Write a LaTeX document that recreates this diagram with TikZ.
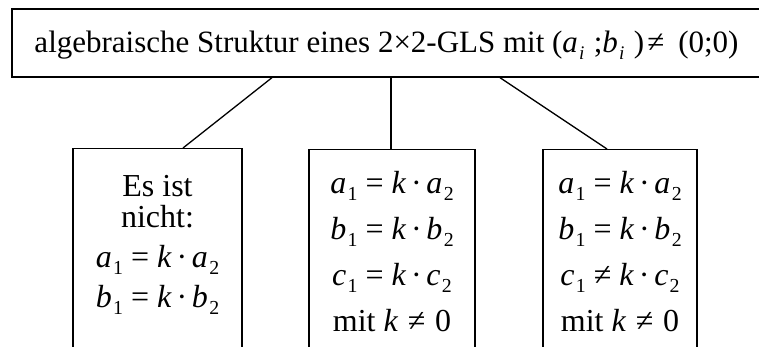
\documentclass[tikz,border=0pt]{standalone}
\usepackage{fontspec}
\setmainfont{Liberation Serif}
\usepackage{graphicx}
\usetikzlibrary{positioning,calc}

% italic letter with lowered index
\newcommand{\ix}[2]{\textit{#1}\kern0.04em\raisebox{-0.22em}{\scalebox{0.62}{#2}}}
% one line  x_1 = k . x_2
\newcommand{\gl}[3]{\ix{#1}{1}\kern.25em#2\kern.25em\textit{k}\kern.15em·\kern.15em\ix{#3}{2}}

\begin{document}
\begin{tikzpicture}[x=1pt,y=-1pt]
\tikzstyle{box}=[draw,line width=1.3pt,inner sep=0pt]
\tikzstyle{unten}=[box,anchor=north,font=\fontsize{32}{46}\selectfont]
\clip (0,0) rectangle (759,347);
\node[box,minimum width=749pt,minimum height=68pt,text height=22pt,text depth=3pt,
  font=\fontsize{31}{34}\selectfont] (head) at (386.5,43)
  {algebraische Struktur eines 2×2-GLS mit (\ix{a}{\textit{i}}\kern.3em;\ix{b}{\textit{i}}\kern.3em)\kern.1em≠\kern.45em(0;0)};
\node[unten] (links) at (157.5,148) {\parbox[t][220pt][t]{169pt}{\centering
  \baselineskip=31pt\vspace*{27pt}Es ist\\nicht:\\[9pt]
  \gl{a}{=}{a}\\[9pt]
  \gl{b}{=}{b}}};
\node[unten] (mitte) at (392,149) {\parbox[t][220pt][t]{166pt}{\centering
  \vspace*{22pt}\gl{a}{=}{a}\\
  \gl{b}{=}{b}\\
  \gl{c}{=}{c}\\
  mit \textit{k}\kern.3em≠\kern.3em0}};
\node[unten] (rechts) at (620,149) {\parbox[t][220pt][t]{154pt}{\centering
  \vspace*{22pt}\gl{a}{=}{a}\\
  \gl{b}{=}{b}\\
  \gl{c}{≠}{c}\\
  mit \textit{k}\kern.3em≠\kern.3em0}};
\draw[line width=1.3pt] ([xshift=-114.5pt]head.south) -- ([xshift=25.5pt]links.north);
\draw[line width=1.3pt] ([xshift=4.5pt]head.south) -- ([xshift=-1pt]mitte.north);
\draw[line width=1.3pt] ([xshift=113.5pt]head.south) -- ([xshift=-13pt]rechts.north);
\end{tikzpicture}
\end{document}
